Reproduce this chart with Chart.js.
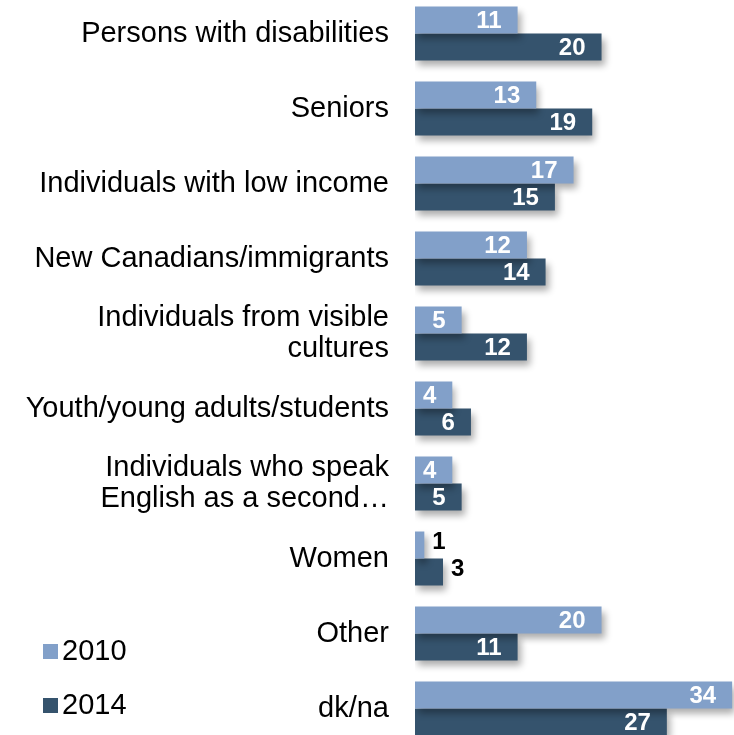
<!DOCTYPE html>
<html>
<head>
<meta charset="utf-8">
<script src="https://cdn.jsdelivr.net/npm/chart.js@4.4.1/dist/chart.umd.min.js"></script>
<style>
  html, body { margin: 0; padding: 0; background: #fff; overflow: hidden; }
  .chart-wrap { position: absolute; left: 0; top: -4px; width: 734px; height: 750px; }
</style>
</head>
<body>
<div class="chart-wrap"><canvas id="chart"></canvas></div>
<script>
const categories = [
  "Persons with disabilities",
  "Seniors",
  "Individuals with low income",
  "New Canadians/immigrants",
  ["Individuals from visible", "cultures"],
  "Youth/young adults/students",
  ["Individuals who speak", "English as a second\u2026"],
  "Women",
  "Other",
  "dk/na",
];
const values2010 = [11, 13, 17, 12, 5, 4, 4, 1, 20, 34];
const values2014 = [20, 19, 15, 14, 12, 6, 5, 3, 11, 27];
const seriesNames = ["2010", "2014"];
const colors = ["#82A0C9", "#35536D"];

// soft drop shadow under the bars, then value labels on top
const barExtras = {
  id: "barExtras",
  beforeDatasetsDraw(chart) {
    const ctx = chart.ctx;
    ctx.save();
    ctx.shadowColor = "rgba(0,0,0,0.33)";
    ctx.shadowBlur = 7;
    ctx.shadowOffsetX = 3;
    ctx.shadowOffsetY = 5;
  },
  afterDatasetsDraw(chart) {
    const ctx = chart.ctx;
    ctx.restore();
    ctx.save();
    ctx.font = "bold 24px Arial, 'Liberation Sans', sans-serif";
    ctx.textBaseline = "middle";
    chart.data.datasets.forEach((ds, i) => {
      const meta = chart.getDatasetMeta(i);
      meta.data.forEach((bar, j) => {
        const v = ds.data[j];
        if (v < 4) {
          ctx.fillStyle = "#000";
          ctx.textAlign = "left";
          ctx.fillText(v, bar.x + 8, bar.y - 3);
        } else {
          ctx.fillStyle = "#fff";
          ctx.textAlign = "right";
          ctx.fillText(v, bar.x - 16, bar.y + 1);
        }
      });
    });
    ctx.restore();
  },
};

// legend in the bottom-left corner
const sideLegend = {
  id: "sideLegend",
  afterDraw(chart) {
    const ctx = chart.ctx;
    ctx.save();
    ctx.font = "29px Arial, 'Liberation Sans', sans-serif";
    ctx.textBaseline = "middle";
    ctx.textAlign = "left";
    const ys = [655, 709];
    chart.data.datasets.forEach((ds, i) => {
      ctx.fillStyle = ds.backgroundColor;
      ctx.fillRect(43, ys[i] - 7, 15, 15);
      ctx.fillStyle = "#000";
      ctx.fillText(ds.label, 62, ys[i] + 1);
    });
    ctx.restore();
  },
};

new Chart(document.getElementById("chart"), {
  type: "bar",
  data: {
    labels: categories,
    datasets: [
      { label: seriesNames[0], data: values2010, backgroundColor: colors[0] },
      { label: seriesNames[1], data: values2014, backgroundColor: colors[1] },
    ],
  },
  options: {
    indexAxis: "y",
    responsive: true,
    maintainAspectRatio: false,
    animation: false,
    layout: { padding: 0 },
    datasets: { bar: { categoryPercentage: 0.72, barPercentage: 1 } },
    plugins: {
      legend: { display: false },
      tooltip: { enabled: false },
    },
    scales: {
      x: { display: false, min: 0, max: 34.2 },
      y: {
        grid: { display: false, drawTicks: false },
        border: { display: false },
        ticks: {
          color: "#000",
          padding: 26,
          font: { family: "Arial, 'Liberation Sans', sans-serif", size: 29, lineHeight: 1.05 },
        },
        afterFit(scale) {
          scale.width = 415;
          scale.paddingTop = 0;
          scale.paddingBottom = 0;
        },
      },
    },
  },
  plugins: [barExtras, sideLegend],
});
</script>
</body>
</html>
